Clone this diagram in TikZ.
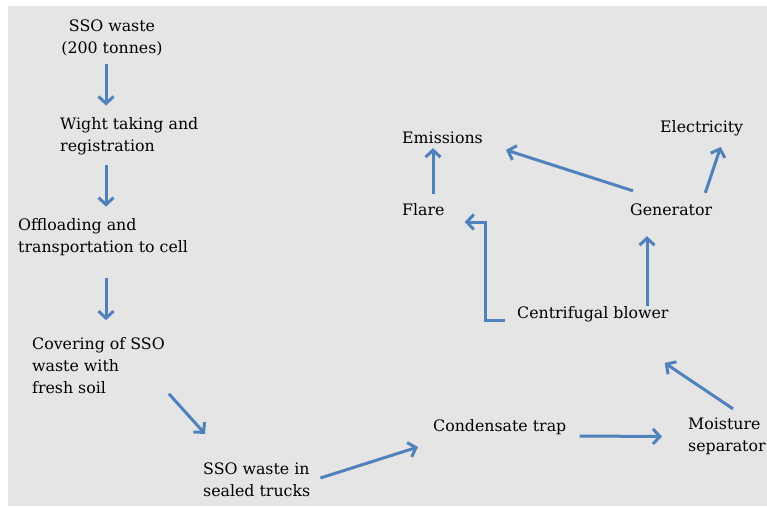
\documentclass[tikz,border=0pt]{standalone}
\usepackage{fontspec}
\setmainfont{DejaVu Serif}
\usetikzlibrary{arrows.meta,calc}
\definecolor{flowblue}{HTML}{4F81BD}
\definecolor{panelgray}{HTML}{E5E5E5}
\begin{document}
\begin{tikzpicture}[x=1pt, y=-1pt,
        lbl/.style={inner sep=0pt, align=left, text=black,
            font=\fontsize{15.8}{22}\selectfont},
        flow/.style={draw=flowblue, line width=3pt,
            -{Straight Barb[length=7pt, width=15pt]}}]
        % Background panel
        \useasboundingbox (0, 0) rectangle (767, 506);
        \fill[white] (0, 0) rectangle (767, 506);
        \fill[panelgray] (8, 6) rectangle (767, 506);

        % Define nodes for the landfill steps
        \node at (112, 37.5) (waste) [lbl, align=center] {SSO waste\\(200 tonnes)};
        \node at (60, 136.5) (weigh) [lbl, anchor=west] {Wight taking and\\registration};
        \node at (18, 237.5) (offload) [lbl, anchor=west] {Offloading and\\transportation to cell};
        \node at (32, 365.5) (cover) [lbl, anchor=west] {Covering of SSO\\waste with\\fresh soil};
        \node at (203, 480) (trucks) [lbl, anchor=west] {SSO waste in\\sealed trucks};

        % Define nodes for the gas line
        \node at (433, 427) (trap) [lbl, anchor=west] {Condensate trap};
        \node at (688, 436.5) (moist) [lbl, anchor=west] {Moisture\\separator};
        \node at (517, 314) (blower) [lbl, anchor=west] {Centrifugal blower};
        \node at (630, 210) (gen) [lbl, anchor=west] {Generator};
        \node at (402, 210) (flare) [lbl, anchor=west] {Flare};
        \node at (402, 138) (emis) [lbl, anchor=west] {Emissions};
        \node at (660, 128) (elec) [lbl, anchor=west] {Electricity};

        % Draw edges
        \draw[flow] ($(waste.south)+(-6, 8)$) -- ($(weigh.north west)+(46, -12)$);
        \draw[flow] ($(weigh.south west)+(46, 10)$) -- ($(offload.north west)+(88, -12)$);
        \draw[flow] ($(offload.south west)+(88, 22)$) -- ($(cover.north west)+(74, -17)$);
        \draw[flow] ($(cover.south east)+(4, 0)$) -- ($(trucks.north west)+(2, -29)$);
        \draw[flow] ($(trucks.east)+(10, -2)$) -- ($(trap.west)+(-15, 20)$);
        \draw[flow] ($(trap.east)+(13, 9)$) -- ($(moist.west)+(-26, 0)$);
        \draw[flow] ($(moist.north west)+(45, -9)$) -- ($(blower.south east)+(-4, 41)$);
        \draw[flow] ($(blower.west)+(-12, 6)$) -- ++(-20, 0) |- ($(flare.east)+(20, 12)$);
        \draw[flow] ($(blower.north west)+(130, 0)$) -- ($(gen.south west)+(17, 20)$);
        \draw[flow] ($(flare.north west)+(31, -10)$) -- ($(emis.south west)+(31, 4)$);
        \draw[flow] ($(gen.north west)+(3, -13)$) -- ($(emis.east)+(23, 12)$);
        \draw[flow] ($(gen.north east)+(-7, -11)$) -- ($(elec.south)+(19, 11)$);
    \end{tikzpicture}
\end{document}
